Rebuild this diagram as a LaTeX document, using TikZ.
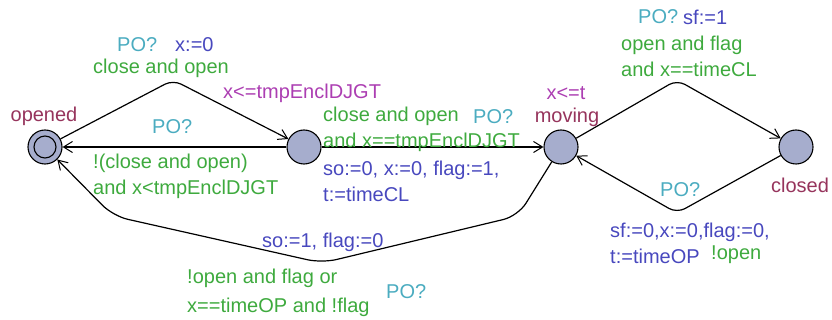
\documentclass[tikz,border=0pt]{standalone}
\usepackage{fontspec}
\setmainfont{Liberation Sans}
\usetikzlibrary{arrows.meta}
\definecolor{syncc}{RGB}{75,172,192}
\definecolor{guardc}{RGB}{62,170,62}
\definecolor{updc}{RGB}{72,72,190}
\definecolor{invc}{RGB}{172,62,178}
\definecolor{namec}{RGB}{150,52,92}
\definecolor{locfill}{RGB}{166,173,205}
\tikzset{
  loc/.style={circle,draw=black,fill=locfill,line width=1.1pt,minimum size=34pt,inner sep=0pt},
  edge/.style={draw=black,line width=1.2pt,-{Straight Barb[length=9pt,width=11pt,line width=1pt]}},
  lbl/.style={font=\fontsize{20}{26}\selectfont,inner sep=0pt,align=left},
  sync/.style={lbl,text=syncc},
  guard/.style={lbl,text=guardc},
  upd/.style={lbl,text=updc},
  inv/.style={lbl,text=invc},
  lname/.style={lbl,text=namec},
}
\begin{document}
\begin{tikzpicture}[x=1pt,y=-1pt]
\useasboundingbox (0,0) rectangle (832,320);
% locations
\node[loc] (opened) at (45,147) {};
\node[circle,draw=black,line width=1.1pt,minimum size=22pt,inner sep=0pt] (openedin) at (45,147) {};
\node[loc] (mid) at (304,147) {};
\node[loc] (moving) at (561,147) {};
\node[loc] (closed) at (796,147) {};
% corner coordinates
\coordinate (c1) at (173,80);
\coordinate (c2) at (677,80);
\coordinate (c3) at (677,213);
\coordinate (c4) at (518,216);
\coordinate (c5) at (322,263);
\coordinate (c6) at (113,216);
% edges
\draw[edge,rounded corners=9pt] (opened) -- (c1) -- (mid);
\draw[edge] (mid) -- (opened);
\draw[edge] (mid) -- (moving);
\draw[edge,rounded corners=9pt] (moving) -- (c2) -- (closed);
\draw[edge,rounded corners=9pt] (closed) -- (c3) -- (moving);
\draw[edge,rounded corners=15pt] (moving) -- (c4) -- (c5) -- (c6) -- (opened);
% location names and invariants
\node[lname] (nopened) at (44,116) {opened};
\node[inv,anchor=west] (imid) at (223,93) {x<=tmpEnclDJGT};
\node[inv] (imoving) at (566,93) {x<=t};
\node[lname] (nmoving) at (567,117) {moving};
\node[lname] (nclosed) at (800,185) {closed};
% edge 1
\node[sync,anchor=west] (s1) at (117,45) {PO?};
\node[upd,anchor=west] (u1) at (175,45) {x:=0};
\node[guard,anchor=west] (g1) at (93,68) {close and open};
% edge 2
\node[sync,anchor=west] (s2) at (152,127) {PO?};
\node[guard,anchor=west] (g2) at (93,176) {!(close and open)\\and x<tmpEnclDJGT};
% edge 3
\node[guard,anchor=west] (g3) at (323,129.5) {close and open\\and x==tmpEnclDJGT};
\node[sync,anchor=west] (s3) at (473,117) {PO?};
\node[upd,anchor=west] (u3) at (323,181.5) {so:=0, x:=0, flag:=1,\\t:=timeCL};
% edge 4
\node[sync,anchor=west] (s4) at (638,17) {PO?};
\node[upd,anchor=west] (u4) at (683,17) {sf:=1};
\node[guard,anchor=west] (g4) at (621,56) {open and flag\\and x==timeCL};
% edge 5
\node[sync,anchor=west] (s5) at (660,190) {PO?};
\node[upd,anchor=west] (u5) at (610,243.5) {sf:=0,x:=0,flag:=0,\\t:=timeOP};
\node[guard,anchor=west] (g5) at (711,255) {!open};
% edge 6
\node[upd,anchor=west] (u6) at (262,242) {so:=1, flag:=0};
\node[guard,anchor=west] (g6) at (187,292.5) {!open and flag or\\[3pt]x==timeOP and !flag};
\node[sync,anchor=west] (s6) at (386,292) {PO?};
\end{tikzpicture}
\end{document}
